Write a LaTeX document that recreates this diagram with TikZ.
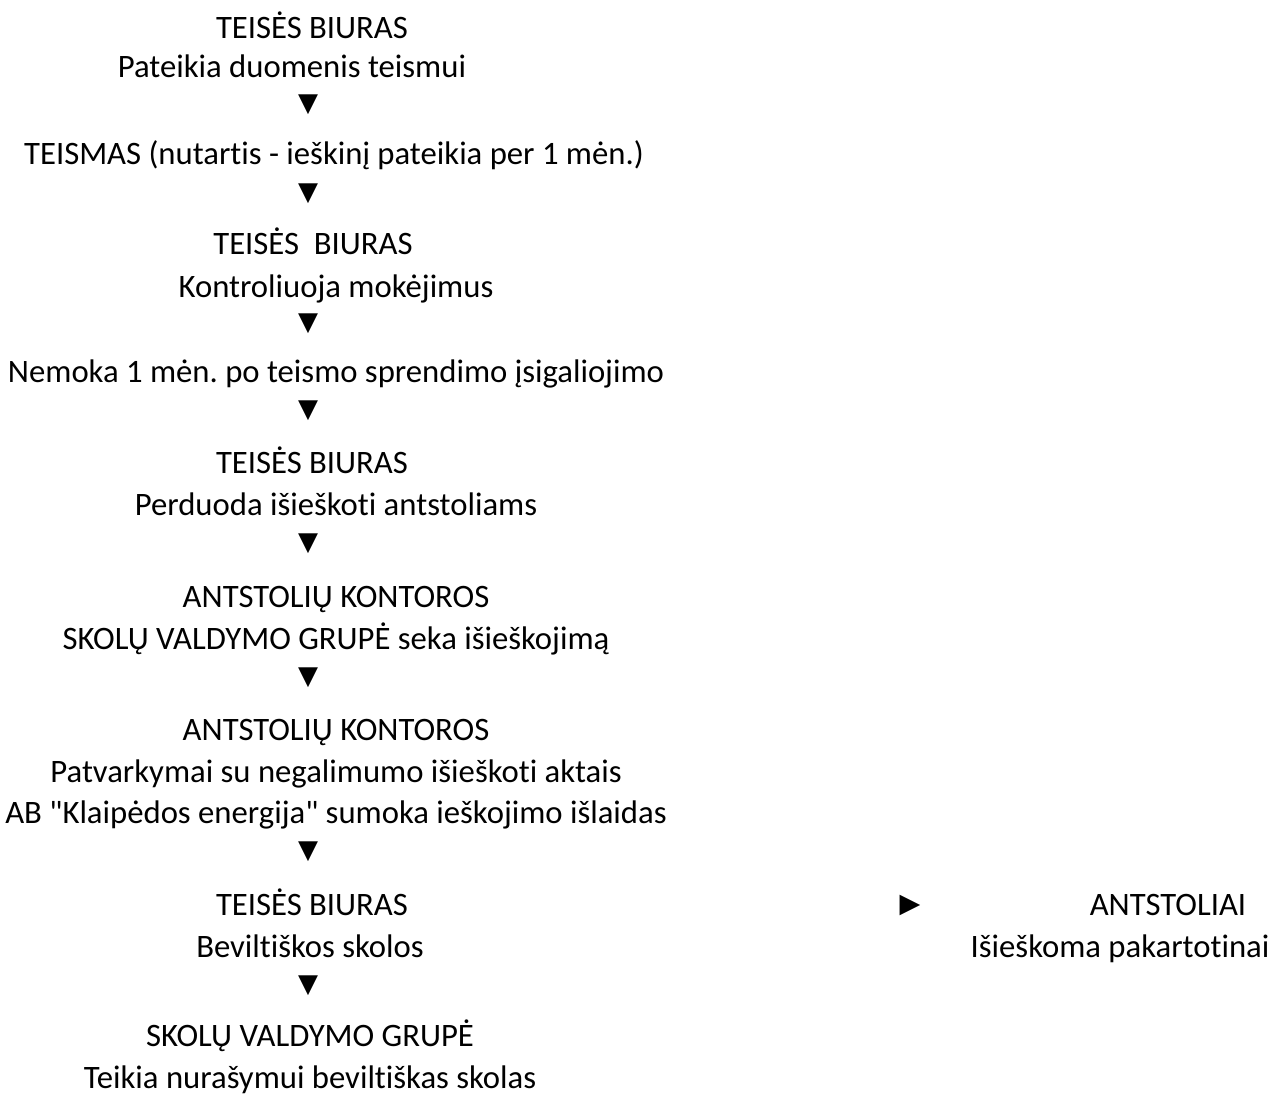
\documentclass[tikz,border=0pt]{standalone}
\usepackage{fontspec}
\setmainfont{Carlito}[Ligatures={TeXOff,NoCommon}]
\newfontfamily\symfont{DejaVu Sans}
\frenchspacing
\begin{document}
\begin{tikzpicture}[x=1bp,y=-1bp,
  txt/.style={inner sep=0pt, anchor=base, font=\fontsize{32.7bp}{39bp}\selectfont},
  tri/.style={inner sep=0pt, anchor=center, font=\symfont\fontsize{26bp}{30bp}\selectfont},
  trir/.style={inner sep=0pt, anchor=center, font=\symfont\fontsize{27bp}{30bp}\selectfont}]
\useasboundingbox (0,0) rectangle (1274,1094);
\node[txt] (t1) at (312,38) {TEISĖS BIURAS};
\node[txt] (t2) at (292,77) {Pateikia duomenis teismui};
\node[tri] (a1) at (308,105) {▼};
\node[txt] (t3) at (334,164) {TEISMAS (nutartis - ieškinį pateikia per 1 mėn.)};
\node[tri] (a2) at (308,194) {▼};
\node[txt] (t4) at (313,254) {TEISĖS\ \ BIURAS};
\node[txt] (t5) at (336,297) {Kontroliuoja mokėjimus};
\node[tri] (a3) at (308,324) {▼};
\node[txt] (t6) at (336,382) {Nemoka 1 mėn. po teismo sprendimo įsigaliojimo};
\node[tri] (a4) at (308,411) {▼};
\node[txt] (t7) at (312,473) {TEISĖS BIURAS};
\node[txt] (t8) at (336,515) {Perduoda išieškoti antstoliams};
\node[tri] (a5) at (308,544) {▼};
\node[txt] (t9) at (336,607) {ANTSTOLIŲ KONTOROS};
\node[txt] (t10) at (336,649) {SKOLŲ VALDYMO GRUPĖ seka išieškojimą};
\node[tri] (a6) at (308,678) {▼};
\node[txt] (t11) at (336,740) {ANTSTOLIŲ KONTOROS};
\node[txt] (t12) at (336,782) {Patvarkymai su negalimumo išieškoti aktais};
\node[txt] (t13) at (336,823) {AB "Klaipėdos energija" sumoka ieškojimo išlaidas};
\node[tri] (a7) at (308,852) {▼};
\node[txt] (t14) at (312,915) {TEISĖS BIURAS};
\node[txt] (t15) at (310,957) {Beviltiškos skolos};
\node[tri] (a8) at (308,986) {▼};
\node[txt] (t16) at (310,1046) {SKOLŲ VALDYMO GRUPĖ};
\node[txt] (t17) at (310,1088) {Teikia nurašymui beviltiškas skolas};
\node[trir] (a9) at (910,905) {▶};
\node[txt] (r1) at (1168,915) {ANTSTOLIAI};
\node[txt] (r2) at (1120,957) {Išieškoma pakartotinai};
\end{tikzpicture}
\end{document}
